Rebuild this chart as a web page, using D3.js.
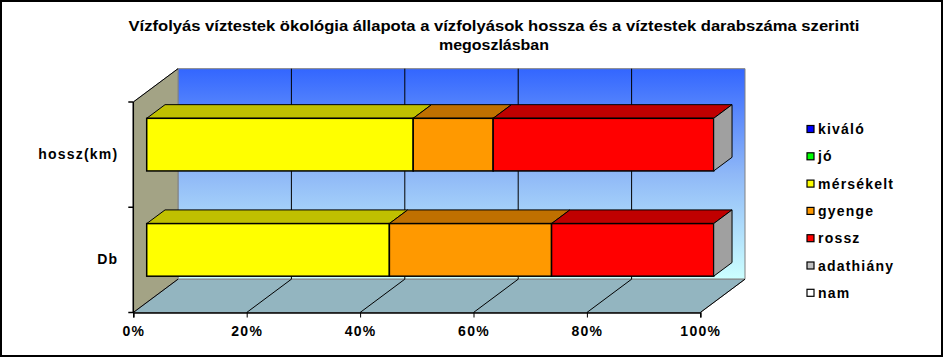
<!DOCTYPE html>
<html><head><meta charset="utf-8">
<script src="https://cdn.jsdelivr.net/npm/d3@7"></script>
<style>
html,body{margin:0;padding:0;background:#fff;}
svg text{font-family:"Liberation Sans",Arial,sans-serif;font-weight:bold;fill:#000;}
</style></head>
<body><svg id="c" width="945" height="358"></svg>
<script>
// ---- data ----
const categories = ["hossz(km)", "Db"];
const seriesNames = ["kiváló", "jó", "mérsékelt", "gyenge", "rossz", "adathiány", "nam"];
const kivalo = [0, 0];
const jo = [0, 0];
const merseklt = [47.0, 42.8];
const gyenge = [14.1, 28.6];
const rossz = [38.9, 28.6];
const adathiany = [0, 0];
const nam = [0, 0];
const xTicks = [0, 20, 40, 60, 80, 100];
const titleLines = ["Vízfolyás víztestek ökológia állapota a vízfolyások hossza és a víztestek darabszáma szerinti", "megoszlásban"];

// ---- styles ----
const frontColors = ["#0000ff", "#00ff00", "#ffff00", "#ff9900", "#ff0000", "#c0c0c0", "#ffffff"];
const topColors = ["#0000c0", "#00c000", "#c0c000", "#c07000", "#c00000", "#a0a0a0", "#c0c0c0"];
const capColor = "#a0a0a0";

const svg = d3.select("#c");
svg.append("rect").attr("x", 1).attr("y", 1).attr("width", 941).attr("height", 355)
  .attr("fill", "#fff").attr("stroke", "#000").attr("stroke-width", 2);

// title
const tl = [731, 110];
svg.selectAll("text.title").data(titleLines).join("text")
  .attr("class", "title")
  .attr("x", 494).attr("y", (d, i) => 31 + i * 19)
  .attr("text-anchor", "middle").style("font-size", "15px")
  .attr("textLength", (d, i) => tl[i]).attr("lengthAdjust", "spacingAndGlyphs")
  .text(d => d);

// ---- geometry ----
const x = d3.scaleLinear().domain([0, 100]).range([133.3, 700.3]);
const y = d3.scaleBand().domain(categories).range([102, 312.5]).paddingInner(0).paddingOuter(0);
const DX = 44.7, DY = -33.3;
const dF = 0.3, dB = 0.71;
const P = (px, py, f) => [px + DX * f, py + DY * f];
const x0 = x(0), x1 = x(100), yT = y.range()[0], yB = y.range()[1];

const defs = svg.append("defs");
const g = defs.append("linearGradient").attr("id", "wall").attr("x1", 0).attr("y1", 0).attr("x2", 0).attr("y2", 1);
g.append("stop").attr("offset", "0%").attr("stop-color", "#3366ff");
g.append("stop").attr("offset", "50%").attr("stop-color", "#8fb8f7");
g.append("stop").attr("offset", "100%").attr("stop-color", "#ccffff");

const poly = pts => pts.map(p => p.join(",")).join(" ");
// back wall
svg.append("polygon").attr("points", poly([P(x0, yT, 1), P(x1, yT, 1), P(x1, yB, 1), P(x0, yB, 1)]))
  .attr("fill", "url(#wall)").attr("stroke", "#808080").attr("stroke-width", 1);
// left wall
svg.append("polygon").attr("points", poly([[x0, yT], P(x0, yT, 1), P(x0, yB, 1), [x0, yB]]))
  .attr("fill", "#a3a385").attr("stroke", "#808080").attr("stroke-width", 1);
svg.append("line").attr("x1", x0).attr("y1", yT).attr("x2", P(x0, yT, 1)[0]).attr("y2", P(x0, yT, 1)[1]).attr("stroke", "#000");
// floor
svg.append("polygon").attr("points", poly([[x0, yB], P(x0, yB, 1), P(x1, yB, 1), [x1, yB]]))
  .attr("fill", "#93b5c0").attr("stroke", "#808080").attr("stroke-width", 1);

// gridlines on back wall and floor
const gridVals = xTicks.filter(v => v > 0 && v < 100);
svg.selectAll("line.gw").data(gridVals).join("line")
  .attr("x1", d => P(x(d), yT, 1)[0]).attr("y1", d => P(x(d), yT, 1)[1])
  .attr("x2", d => P(x(d), yB, 1)[0]).attr("y2", d => P(x(d), yB, 1)[1])
  .attr("stroke", "#000").attr("stroke-width", 1);
svg.selectAll("line.gf").data(xTicks).join("line")
  .attr("x1", d => x(d)).attr("y1", yB)
  .attr("x2", d => P(x(d), yB, 1)[0]).attr("y2", d => P(x(d), yB, 1)[1])
  .attr("stroke", "#000").attr("stroke-width", 1);
// left wall front edge (value axis line)
svg.append("line").attr("x1", x0).attr("y1", yT).attr("x2", x0).attr("y2", yB).attr("stroke", "#000").attr("stroke-width", 1.5);

// x axis
const xa = svg.append("g").attr("transform", `translate(0,${yB})`)
  .call(d3.axisBottom(x).tickValues(xTicks).tickFormat(d => d + "%").tickSize(5).tickPadding(9));
xa.select(".domain").attr("stroke", "#000").attr("stroke-width", 1.5);
xa.selectAll("text").style("font-size", "14px").style("letter-spacing", "1.3px").attr("font-family", null);

// y ticks at band edges
const edges = [...categories.map(c => y(c)), yB];
svg.selectAll("line.yt").data(edges).join("line")
  .attr("x1", x0 - 5).attr("x2", x0).attr("y1", d => d).attr("y2", d => d)
  .attr("stroke", "#000").attr("stroke-width", 1.5);
const ya = svg.append("g").attr("transform", `translate(${x0},0)`)
  .call(d3.axisLeft(y).tickSize(0).tickPadding(15));
ya.select(".domain").remove();
ya.selectAll("text").style("font-size", "14px").style("letter-spacing", "1.2px").attr("font-family", null);

// ---- bars ----
const table = categories.map((c, i) => ({
  cat: c, "kiváló": kivalo[i], "jó": jo[i], "mérsékelt": merseklt[i],
  "gyenge": gyenge[i], "rossz": rossz[i], "adathiány": adathiany[i], "nam": nam[i]
}));
const stacked = d3.stack().keys(seriesNames)(table);
const bh = y.bandwidth() * 0.5;
const barG = svg.append("g");
categories.forEach((c, ci) => {
  const top = y(c) + y.bandwidth() * 0.25, bot = top + bh;
  stacked.forEach((s, si) => {
    const a = s[ci][0], b = s[ci][1];
    if (b - a <= 0) return;
    const xa_ = x(a), xb_ = x(b);
    barG.append("polygon").attr("points", poly([P(xa_, top, dF), P(xa_, top, dB), P(xb_, top, dB), P(xb_, top, dF)]))
      .attr("fill", topColors[si]).attr("stroke", "#000").attr("stroke-width", 1).attr("stroke-linejoin", "round");
    const f0 = P(xa_, top, dF), f1 = P(xb_, bot, dF);
    barG.append("rect").attr("x", f0[0]).attr("y", f0[1]).attr("width", f1[0] - f0[0]).attr("height", f1[1] - f0[1])
      .attr("fill", frontColors[si]).attr("stroke", "#000").attr("stroke-width", 1.5);
  });
  const total = stacked[stacked.length - 1][ci][1];
  const xe = x(total);
  barG.append("polygon").attr("points", poly([P(xe, top, dF), P(xe, top, dB), P(xe, bot, dB), P(xe, bot, dF)]))
    .attr("fill", capColor).attr("stroke", "#000").attr("stroke-width", 1).attr("stroke-linejoin", "round");
});

// ---- legend ----
const lg = svg.append("g");
seriesNames.forEach((n, i) => {
  const cy = 129 + i * 27.3;
  lg.append("rect").attr("x", 807).attr("y", cy - 3.5).attr("width", 7).attr("height", 7)
    .attr("fill", frontColors[i]).attr("stroke", "#000").attr("stroke-width", 1.2);
  lg.append("text").attr("x", 818).attr("y", cy).attr("dy", "0.36em")
    .style("font-size", "14px").style("letter-spacing", "1.2px").text(n);
});
</script></body></html>
